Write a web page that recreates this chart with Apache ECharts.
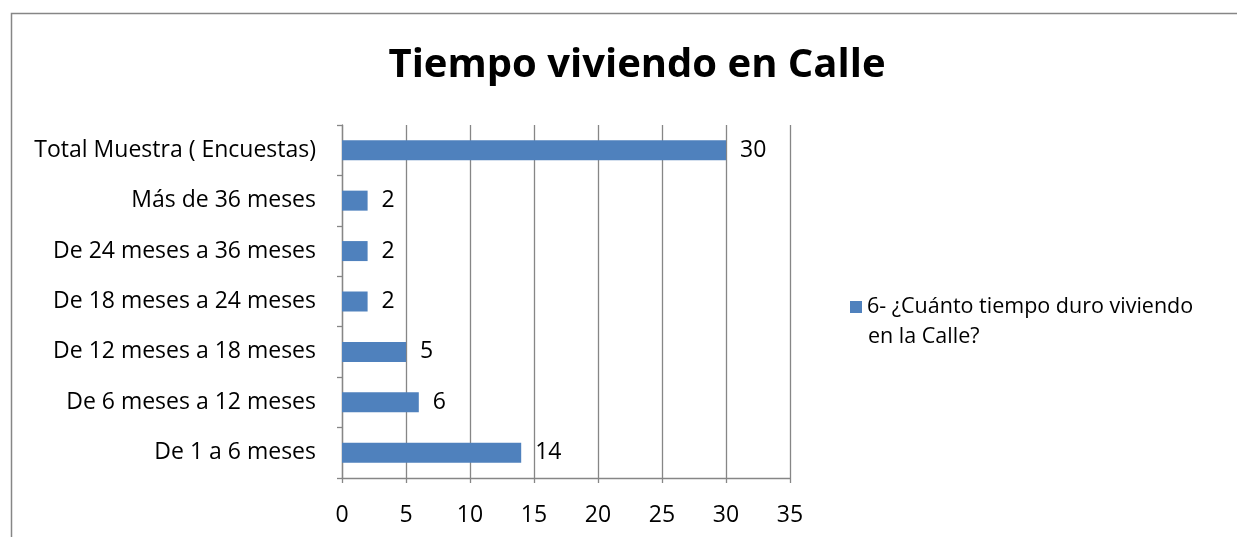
<!DOCTYPE html>
<html>
<head>
<meta charset="utf-8">
<script src="https://cdn.jsdelivr.net/npm/echarts@6/dist/echarts.min.js"></script>
<style>
html, body { margin: 0; padding: 0; background: #fff; }
#main { width: 1237px; height: 537px; }
</style>
</head>
<body>
<div id="main"></div>
<script>
var categories = ["De 1 a 6 meses", "De 6 meses a 12 meses", "De 12 meses a 18 meses",
	"De 18 meses a 24 meses", "De 24 meses a 36 meses", "Más de 36 meses", "Total Muestra ( Encuestas)"];
var values = [14, 6, 5, 2, 2, 2, 30];
var seriesName = "6- ¿Cuánto tiempo duro viviendo en la Calle?";

var font = "Open Sans";
var chart = echarts.init(document.getElementById('main'));

var option = {
	animation: false,
	title: {
		text: "Tiempo viviendo en Calle",
		left: 632,
		textAlign: "center",
		top: 41,
		textStyle: { fontFamily: font, fontSize: 40, fontWeight: "bold", color: "#000" }
	},
	graphic: [{
		type: "rect",
		shape: { x: 11.5, y: 13.5, width: 1400, height: 700 },
		style: { fill: "none", stroke: "#868686", lineWidth: 1.5 },
		silent: true
	}, {
		// second line of the legend text
		type: "text",
		left: 868,
		top: 326,
		style: { text: "en la Calle?", font: "21.5px 'Open Sans'", fill: "#000" },
		silent: true
	}],
	legend: {
		left: 845,
		top: 291,
		itemWidth: 12,
		itemHeight: 12,
		itemGap: 8,
		icon: "rect",
		formatter: function () { return "6- ¿Cuánto tiempo duro viviendo"; },
		textStyle: { fontFamily: font, fontSize: 21.5, color: "#000" }
	},
	grid: { left: 342, right: 447, top: 125, bottom: 59 },
	xAxis: {
		type: "value",
		min: 0, max: 35, interval: 5,
		axisLine: { show: true, lineStyle: { color: "#868686", width: 1.3 } },
		axisTick: { show: true, length: 5, lineStyle: { color: "#868686", width: 1.3 } },
		splitLine: { lineStyle: { color: "#868686", width: 1.3 } },
		axisLabel: { fontFamily: font, fontSize: 23, color: "#000", margin: 26 }
	},
	yAxis: {
		type: "category",
		data: categories,
		axisLine: { show: true, lineStyle: { color: "#868686", width: 1.3 } },
		axisTick: { show: true, length: 5, lineStyle: { color: "#868686", width: 1.3 } },
		axisLabel: { fontFamily: font, fontSize: 23, color: "#000", margin: 26 }
	},
	series: [{
		name: seriesName,
		type: "bar",
		data: values,
		barWidth: 20,
		itemStyle: { color: "#4f81bd" },
		label: { show: true, position: "right", distance: 14, fontFamily: font, fontSize: 23, color: "#000" }
	}]
};
chart.setOption(option);
</script>
</body>
</html>
